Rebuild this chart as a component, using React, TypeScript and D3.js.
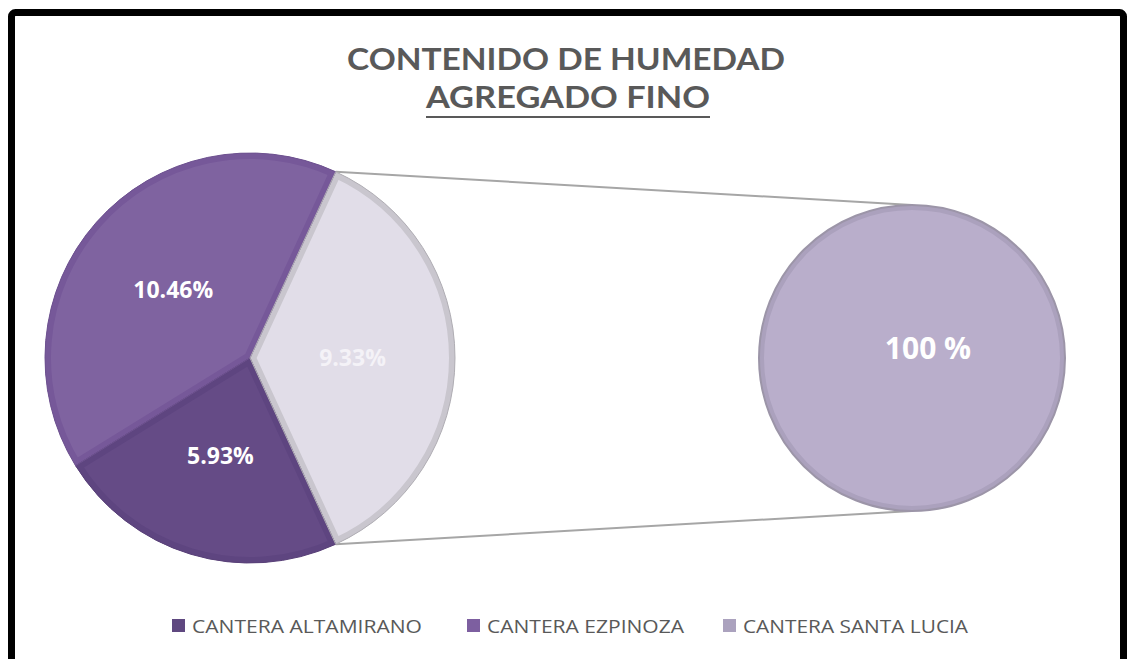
import React from "react";
import * as d3 from "d3";

const categories = ["CANTERA ALTAMIRANO", "CANTERA EZPINOZA", "CANTERA SANTA LUCIA"];
const values = [5.93, 10.46, 9.33];
const labels = ["5.93%", "10.46%", "9.33%"];
const secondaryValues = [100];
const secondaryLabels = ["100 %"];
const titleLines = ["CONTENIDO DE HUMEDAD", "AGREGADO FINO"];

const sliceFill = ["#654B86", "#7F63A0", "#E1DDE8"];
const sliceBevel = ["#5E4580", "#765899", "#C9C6CE"];
const sliceStroke = ["#5A4279", "#6E5290", "#B0AEB4"];
const legendColors = ["#5F4880", "#7D5FA0", "#ABA2BE"];
const labelColors = ["#FFFFFF", "#FFFFFF", "#F4F2F7"];

const W = 1130;
const H = 659;

export default function App() {
  const cx = 250, cy = 358, r = 205;
  const cx2 = 912, cy2 = 358, r2 = 153;
  const total = d3.sum(values);
  const start = Math.PI / 2 + Math.PI * (values[2] / total);
  const pie = d3.pie<number>().sort(null).value((d) => d).startAngle(start).endAngle(start + 2 * Math.PI);
  const arcs = pie(values);
  const arc = d3.arc<d3.PieArcDatum<number>>().innerRadius(0).outerRadius(r);
  const pie2 = d3.pie<number>().sort(null).value((d) => d);
  const arcs2 = pie2(secondaryValues);
  const arc2 = d3.arc<d3.PieArcDatum<number>>().innerRadius(0).outerRadius(r2);

  const light = arcs[2];
  const a0 = light.startAngle, a1 = light.endAngle;
  const p0: [number, number] = [cx + r * Math.sin(a0), cy - r * Math.cos(a0)];
  const p1: [number, number] = [cx + r * Math.sin(a1), cy - r * Math.cos(a1)];

  const legendX = [172, 467, 723];
  const legendTextW = [230, 197, 225];
  const font = "'Open Sans', 'Liberation Sans', sans-serif";
  const titleFont = "Lato, 'Open Sans', sans-serif";

  return (
    <svg width={W} height={H} style={{ position: "absolute", left: 0, top: 0, background: "#fff" }}>
      <defs>
        {arcs.map((a, i) => (
          <clipPath id={`clip${i}`} key={i}>
            <path d={arc(a) || ""} transform={`translate(${cx},${cy})`} />
          </clipPath>
        ))}
        <clipPath id="clip2nd">
          <path d={arc2(arcs2[0]) || ""} transform={`translate(${cx2},${cy2})`} />
        </clipPath>
      </defs>
      <rect x={11.5} y={12.5} width={1112} height={662} rx={4} fill="#fff" stroke="#000" strokeWidth={7} />

      <text x={566} y={70} textAnchor="middle" fontFamily={titleFont} fontWeight={700} fontSize={31}
        fill="#595959" textLength={438} lengthAdjust="spacingAndGlyphs">{titleLines[0]}</text>
      <text x={568} y={108} textAnchor="middle" fontFamily={titleFont} fontWeight={700} fontSize={31}
        fill="#595959" textLength={284} lengthAdjust="spacingAndGlyphs">{titleLines[1]}</text>
      <line x1={426} x2={710} y1={117} y2={117} stroke="#595959" strokeWidth={2} />

      {/* connector lines */}
      <line x1={p0[0]} y1={p0[1]} x2={cx2} y2={cy2 - r2} stroke="#A6A6A6" strokeWidth={2} />
      <line x1={p1[0]} y1={p1[1]} x2={cx2} y2={cy2 + r2} stroke="#A6A6A6" strokeWidth={2} />

      {/* primary pie */}
      <g transform={`translate(${cx},${cy})`}>
        {arcs.map((a, i) => (
          <path key={i} d={arc(a) || ""} fill={sliceFill[i]} />
        ))}
      </g>
      {arcs.map((a, i) => (
        <g key={i} clipPath={`url(#clip${i})`}>
          <path d={arc(a) || ""} transform={`translate(${cx},${cy})`} fill="none" stroke={sliceBevel[i]} strokeWidth={12} strokeLinejoin="round" />
        </g>
      ))}
      <g transform={`translate(${cx},${cy})`}>
        {arcs.map((a, i) => (
          <path key={i} d={arc(a) || ""} fill="none" stroke={sliceStroke[i]} strokeWidth={1} />
        ))}
        {arcs.map((a, i) => {
          const [lx, ly] = arc.centroid(a);
          return (
            <text key={i} x={lx} y={ly} dy="0.36em" textAnchor="middle" fontFamily={font} fontWeight={700}
              fontSize={23} fill={labelColors[i]}>{labels[i]}</text>
          );
        })}
      </g>

      {/* secondary pie */}
      <g transform={`translate(${cx2},${cy2})`}>
        <path d={arc2(arcs2[0]) || ""} fill="#B9AECB" />
      </g>
      <g clipPath="url(#clip2nd)">
        <path d={arc2(arcs2[0]) || ""} transform={`translate(${cx2},${cy2})`} fill="none" stroke="#ABA1BD" strokeWidth={10} />
      </g>
      <g transform={`translate(${cx2},${cy2})`}>
        <path d={arc2(arcs2[0]) || ""} fill="none" stroke="#9C95A8" strokeWidth={2} />
        <text x={16} y={-10} dy="0.35em" textAnchor="middle" fontFamily={font} fontWeight={700} fontSize={30} fill="#FFFFFF">{secondaryLabels[0]}</text>
      </g>

      {/* legend */}
      {categories.map((c, i) => (
        <g key={c} transform={`translate(${legendX[i]},619)`}>
          <rect x={0} y={0} width={13} height={13} fill={legendColors[i]} />
          <text x={20} y={14} fontFamily={font} fontSize={19} fill="#595959"
            textLength={legendTextW[i]} lengthAdjust="spacingAndGlyphs">{c}</text>
        </g>
      ))}
    </svg>
  );
}
